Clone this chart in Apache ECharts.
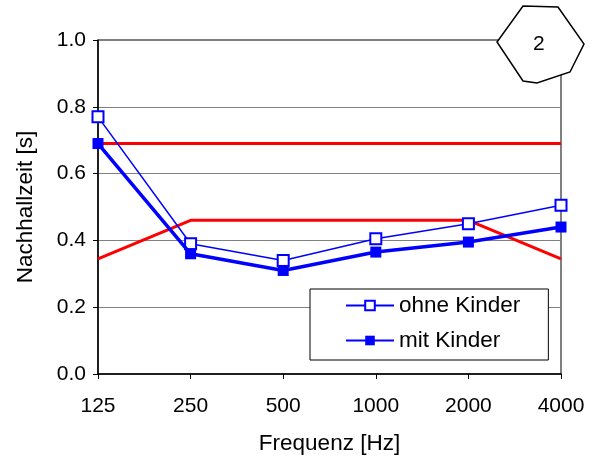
<!DOCTYPE html>
<html><head><meta charset="utf-8">
<script src="https://cdn.jsdelivr.net/npm/echarts@6/dist/echarts.min.js"></script>
<style>html,body{margin:0;padding:0;background:#fff}#c{width:596px;height:460px}</style>
</head><body><div id="c"></div>
<script>
var categories = ['125', '250', '500', '1000', '2000', '4000'];
var ohneKinder = [0.77, 0.39, 0.34, 0.405, 0.45, 0.505];
var mitKinder = [0.69, 0.36, 0.31, 0.365, 0.395, 0.44];
var upperLimit = [0.69, 0.69, 0.69, 0.69, 0.69, 0.69];
var lowerLimit = [0.345, 0.46, 0.46, 0.46, 0.46, 0.345];
var yTicks = [0, 0.2, 0.4, 0.6, 0.8, 1.0];

var FONT = 'Liberation Sans, Arial, sans-serif';
var chart = echarts.init(document.getElementById('c'), null, {renderer: 'canvas'});
chart.setOption({
  animation: false,
  backgroundColor: '#fff',
  textStyle: {fontFamily: FONT},
  grid: {left: 98, right: 35, top: 40, bottom: 86, containLabel: false, outerBoundsMode: 'none',
         show: true, borderColor: '#000', borderWidth: 1, backgroundColor: 'transparent'},
  legend: {
    data: ['ohne Kinder', 'mit Kinder'],
    orient: 'vertical', left: 310, top: 289,
    padding: [5, 28, 8, 35], itemGap: 12, itemWidth: 48, itemHeight: 12,
    backgroundColor: '#fff', borderColor: '#000', borderWidth: 1,
    textStyle: {fontSize: 22.5, color: '#000', fontFamily: FONT}
  },
  xAxis: {
    type: 'category', data: categories, boundaryGap: false,
    name: 'Frequenz [Hz]', nameLocation: 'middle', nameGap: 58,
    nameTextStyle: {fontSize: 22.5, color: '#000', fontFamily: FONT},
    axisLine: {lineStyle: {color: '#000', width: 1.5}},
    axisTick: {show: true, length: 5, lineStyle: {color: '#000'}},
    axisLabel: {fontSize: 21, color: '#000', margin: 22, fontFamily: FONT},
    splitLine: {show: false}
  },
  yAxis: {
    type: 'value', min: 0, max: 1, interval: 0.2,
    name: 'Nachhallzeit [s]', nameLocation: 'middle', nameGap: 61,
    nameTextStyle: {fontSize: 22.5, color: '#000', fontFamily: FONT},
    axisLine: {show: true, lineStyle: {color: '#000', width: 1.5}},
    axisTick: {show: true, length: 5, lineStyle: {color: '#000'}},
    axisLabel: {fontSize: 21, color: '#000', margin: 12, fontFamily: FONT,
      formatter: function (v) { return v.toFixed(1); }},
    splitLine: {show: true, lineStyle: {color: '#808080', width: 1}}
  },
  series: [
    {name: 'upper', type: 'line', data: upperLimit, symbol: 'none', silent: true,
     lineStyle: {color: '#ff0000', width: 3}, z: 2},
    {name: 'lower', type: 'line', data: lowerLimit, symbol: 'none', silent: true,
     lineStyle: {color: '#ff0000', width: 3}, z: 2},
    {name: 'ohne Kinder', type: 'line', data: ohneKinder, symbol: 'emptyRect', symbolSize: 11,
     color: '#0000ff', lineStyle: {color: '#0000ff', width: 1.5},
     itemStyle: {color: '#0000ff', borderColor: '#0000ff', borderWidth: 1.5}, z: 3},
    {name: 'mit Kinder', type: 'line', data: mitKinder, symbol: 'rect', symbolSize: 11,
     color: '#0000ff', lineStyle: {color: '#0000ff', width: 3.5},
     itemStyle: {color: '#0000ff'}, z: 4}
  ],
  graphic: [
    {type: 'polygon', z: 100,
     shape: {points: [[523, 6], [558, 7], [584, 44], [570, 72], [537, 83], [523, 81], [497, 42]]},
     style: {fill: '#fff', stroke: '#000', lineWidth: 1.5}},
    {type: 'text', z: 101, left: 533, top: 34,
     style: {text: '2', fontSize: 21, fill: '#000', fontFamily: FONT}}
  ]
});
</script></body></html>
